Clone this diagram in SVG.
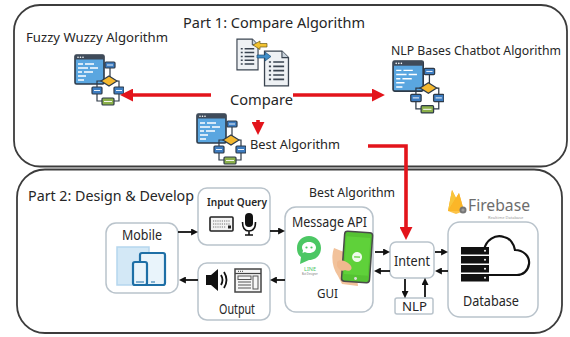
<svg xmlns="http://www.w3.org/2000/svg" width="570" height="337" viewBox="0 0 570 337">
<defs>
<style>
text{font-family:"Noto Sans","Liberation Sans",sans-serif;fill:#262626}
.panel{fill:#fff;stroke:#3c3c3c;stroke-width:1.8}
.node{fill:#fff;stroke:#b9c3cb;stroke-width:1.5}
.red{stroke:#e3141b;stroke-width:3.6;fill:none}
.blk{stroke:#111;stroke-width:1.8;fill:none}
.dk{stroke:#2e3a48;stroke-width:1.2}
</style>
<marker id="redHead" viewBox="0 0 10 10" refX="7" refY="5" markerUnits="userSpaceOnUse" markerWidth="13" markerHeight="13" orient="auto">
<path d="M0,0 L10,5 L0,10 z" fill="#e3141b"/>
</marker>
<marker id="blkHead" viewBox="0 0 10 10" refX="7" refY="5" markerUnits="userSpaceOnUse" markerWidth="7" markerHeight="7" orient="auto">
<path d="M0,0 L10,5 L0,10 z" fill="#111"/>
</marker>
<!-- algorithm icon: code window + flowchart -->
<symbol id="algo" viewBox="0 0 50 52">
<rect x="1" y="1" width="29" height="29" rx="1.5" fill="#5aa6e0" stroke="#2e3a48" stroke-width="1.6"/>
<rect x="1" y="1" width="29" height="4.5" fill="#3f4b5a"/>
<circle cx="4" cy="3.2" r="0.8" fill="#fff"/><circle cx="6.5" cy="3.2" r="0.8" fill="#fff"/><circle cx="9" cy="3.2" r="0.8" fill="#fff"/>
<g stroke="#fff" stroke-width="1.4">
<path d="M4,10 H9 M11,10 H20 M4,14 H14 M16,14 H24 M4,18 H8 M10,18 H19 M4,22 H12 M4,26 H10"/>
</g>
<g stroke="#2e3a48" stroke-width="1.2" fill="none">
<path d="M36,14 V23 M27,27 H23 V33 M43,27 H45 V33 M23,40 V47 H28 M45,40 V47 H40"/>
</g>
<rect x="31" y="8" width="10" height="6" rx="1" fill="#3d7cc0" class="dk"/>
<path d="M35,22 L43,27 L35,32 L27,27 z" fill="#f5b82e" class="dk"/>
<rect x="18" y="33" width="10" height="7" rx="1" fill="#3d7cc0" class="dk"/>
<rect x="40" y="33" width="10" height="7" rx="1" fill="#3d7cc0" class="dk"/>
<rect x="28" y="44" width="12" height="7" rx="1" fill="#8bb04a" class="dk"/>
<g stroke="#fff" stroke-width="0.9"><path d="M33,11 H39 M20,36.5 H26 M42,36.5 H48 M30,47.5 H38"/></g>
</symbol>
<!-- document with list lines -->
<symbol id="doc" viewBox="0 0 24 34">
<path d="M1,1 H17 L23,7 V33 H1 z" fill="#eef1f4" stroke="#3a4450" stroke-width="1.2"/>
<path d="M17,1 V7 H23" fill="#c9d3dc" stroke="#3a4450" stroke-width="1"/>
<g stroke="#3a4450" stroke-width="1.5">
<path d="M5,11 H7 M9,11 H19 M5,15 H7 M9,15 H19 M5,19 H7 M9,19 H19 M5,23 H7 M9,23 H19 M5,27 H7 M9,27 H19"/>
</g>
</symbol>
</defs>

<!-- panels -->
<rect class="panel" x="14" y="5" width="553" height="161.5" rx="26"/>
<rect class="panel" x="17" y="169.5" width="545" height="163.5" rx="28"/>

<text x="183" y="28" font-size="14" textLength="182" lengthAdjust="spacingAndGlyphs">Part 1: Compare Algorithm</text>
<text x="28" y="201" font-size="14.5" textLength="166" lengthAdjust="spacingAndGlyphs">Part 2: Design &amp; Develop</text>

<!-- Part 1 nodes -->
<g id="fuzzy">
<text x="26" y="42" font-size="13" textLength="142" lengthAdjust="spacingAndGlyphs">Fuzzy Wuzzy Algorithm</text>
<use href="#algo" x="74" y="54" width="50" height="52"/>
</g>
<g id="nlp-chatbot">
<text x="391" y="55" font-size="13" textLength="170" lengthAdjust="spacingAndGlyphs">NLP Bases Chatbot Algorithm</text>
<use href="#algo" x="392" y="60" width="52" height="54"/>
</g>
<g id="compare">
<use href="#doc" x="236" y="37" width="23" height="35"/>
<use href="#doc" x="263" y="50" width="27" height="37"/>
<path d="M253,45 L260,41 L260,43.5 L267,43.5 L267,47 L260,47 L260,49.5 z" fill="#f2c230" stroke="#6b5a1a" stroke-width="0.7"/>
<path d="M257,55 L265,55 L265,52 L271,56.5 L265,61 L265,58 L257,58 z" fill="#3f8ec9" stroke="#1f4f72" stroke-width="0.7"/>
<text x="230" y="105" font-size="15" textLength="63" lengthAdjust="spacingAndGlyphs">Compare</text>
</g>
<g id="best-algorithm">
<use href="#algo" x="196" y="113" width="50" height="52"/>
<text x="250" y="149" font-size="13" textLength="90" lengthAdjust="spacingAndGlyphs">Best Algorithm</text>
</g>

<!-- Part 2 nodes -->
<g id="mobile">
<rect class="node" x="106" y="223" width="72" height="70" rx="10"/>
<text x="122" y="240" font-size="14" textLength="40" lengthAdjust="spacingAndGlyphs">Mobile</text>
<rect x="117" y="247" width="32" height="38" fill="#d3e8f6" stroke="#b5d6ee" stroke-width="1.5"/>
<rect x="140" y="253" width="25" height="32" rx="2" fill="#e9f4fb" stroke="#1e6fa6" stroke-width="2.2"/>
<rect x="133" y="262" width="14" height="23" rx="2" fill="#e9f4fb" stroke="#1e6fa6" stroke-width="2.2"/>
<path d="M136,282 H144 M151,282 H155" stroke="#1e6fa6" stroke-width="1"/>
</g>

<g id="input-query">
<rect class="node" x="198" y="188" width="72" height="57" rx="9"/>
<text x="207" y="206" font-size="11" font-weight="600" textLength="60" lengthAdjust="spacingAndGlyphs">Input Query</text>
<rect x="210" y="217" width="23" height="14" rx="1" fill="#f4f4f4" stroke="#222" stroke-width="1.6"/>
<g stroke="#777" stroke-width="1.2" stroke-dasharray="1.2 1">
<path d="M213,221 H230 M213,224 H230 M213,227 H226"/>
</g>
<rect x="228" y="225.5" width="3" height="3" fill="#222"/>
<rect x="245" y="213" width="8" height="14" rx="4" fill="#111"/>
<path d="M242.5,222 Q242.5,231 249,231 Q255.5,231 255.5,222 M249,231 V235 M245,235 H253" fill="none" stroke="#111" stroke-width="1.6"/>
</g>

<g id="output">
<rect class="node" x="198" y="263" width="72" height="57" rx="9"/>
<path d="M206,275 H211 L218,269 V291 L211,285 H206 z" fill="#111"/>
<path d="M221,275 Q224,280 221,285 M224,272 Q229,280 224,288" fill="none" stroke="#111" stroke-width="1.8"/>
<rect x="235" y="269" width="26" height="23" fill="#f6f6f6" stroke="#444" stroke-width="1.5"/>
<path d="M235,273.5 H261" stroke="#444" stroke-width="1.2"/>
<path d="M238,271.3 H244" stroke="#666" stroke-width="1.2" stroke-dasharray="1 1"/>
<rect x="238" y="276" width="13" height="3.5" fill="none" stroke="#555" stroke-width="1"/>
<rect x="253" y="276" width="5" height="13" fill="none" stroke="#555" stroke-width="1"/>
<path d="M238,282 H251 M238,285 H251 M238,288 H251" stroke="#555" stroke-width="1"/>
<text x="219" y="314" font-size="14" textLength="36" lengthAdjust="spacingAndGlyphs">Output</text>
</g>

<g id="message-api">
<text x="309" y="197" font-size="13" textLength="86" lengthAdjust="spacingAndGlyphs">Best Algorithm</text>
<rect class="node" x="285" y="207" width="88" height="105" rx="11"/>
<text x="292" y="227" font-size="14" textLength="75" lengthAdjust="spacingAndGlyphs">Message API</text>
<!-- LINE messenger badge -->
<path d="M309,236 C316,236 321,241 321,248 C321,255 316,260 309,260 L300,264 L301,257 C298,255 297,252 297,248 C297,241 302,236 309,236 z" fill="#4cc764"/>
<path d="M309,242 C313.5,242 316,244.5 316,247.5 C316,250.5 313.5,253 309,253 C307.5,253 306,252.7 305,252 L302.5,253 L303,250.5 C302.3,249.6 302,248.6 302,247.5 C302,244.5 304.5,242 309,242 z" fill="#fff"/>
<circle cx="306.5" cy="247.5" r="1.1" fill="#4cc764"/><circle cx="311.5" cy="247.5" r="1.1" fill="#4cc764"/>
<text x="304" y="271" font-size="5.5" style="fill:#4cc764">LINE</text>
<text x="302" y="275" font-size="2.6" style="fill:#777">Bot Designer</text>
<!-- hand holding phone -->
<path d="M334,248 C331,256 332,268 338,276 L342,284 L358,286 L356,270 L346,262 L344,252 z" fill="#f2c29b"/>
<g transform="rotate(4 357 258)">
<rect x="343" y="232" width="28" height="50" rx="3" fill="#55c233" stroke="#4a4a4a" stroke-width="1.5"/>
<rect x="345" y="237" width="24" height="38" fill="#5fd13a"/>
<circle cx="357" cy="257" r="5" fill="#fff" opacity="0.9"/>
<path d="M354,257 H360" stroke="#5fd13a" stroke-width="1.2"/>
<circle cx="357" cy="278.5" r="1.5" fill="#ddd"/>
</g>
<path d="M337,262 C340,258 348,262 351,266 C353,270 349,272 345,270 C342,272 339,270 337,266 z" fill="#f0b98f"/>
<text x="317" y="298" font-size="13" textLength="21" lengthAdjust="spacingAndGlyphs">GUI</text>
</g>

<g id="intent">
<rect class="node" x="390" y="242" width="44" height="36" rx="6"/>
<text x="394" y="266" font-size="14" textLength="36" lengthAdjust="spacingAndGlyphs">Intent</text>
</g>

<g id="nlp">
<rect class="node" x="395" y="298" width="38" height="16" rx="2"/>
<text x="402" y="311" font-size="13" textLength="25" lengthAdjust="spacingAndGlyphs">NLP</text>
</g>

<g id="database">
<rect class="node" x="448" y="222" width="90" height="95" rx="12"/>
<!-- Firebase logo -->
<path d="M448,211 L452,190 L456,198 L459,193 L464,211 z" fill="#f6a623"/>
<path d="M448,211 L452,190 L456,198 z" fill="#f8c53a"/>
<path d="M448,211 L459,193 L464,211 L456,214 z" fill="#fbb829" opacity="0.85"/>
<circle cx="463" cy="210" r="3.5" fill="#757575"/>
<circle cx="463" cy="210" r="1.6" fill="#9e9e9e"/>
<text x="468" y="211" font-size="17" textLength="62" lengthAdjust="spacingAndGlyphs" style="fill:#6d6d6d">Firebase</text>
<text x="488" y="219" font-size="4" style="fill:#9a9a9a">Realtime Database</text>
<!-- cloud -->
<path d="M484,250 C486,240 495,234 504,237 C510,238 514,244 515,250 C523,250 530,256 529,264 C528,271 523,275 517,275 H489" fill="none" stroke="#111" stroke-width="2.2"/>
<!-- server rack -->
<g fill="#111">
<rect x="461" y="247" width="28" height="7.5"/>
<rect x="461" y="256" width="28" height="7.5"/>
<rect x="461" y="265" width="28" height="7.5"/>
<rect x="461" y="274" width="28" height="7.5"/>
</g>
<g fill="#fff">
<circle cx="485" cy="250.7" r="1"/><circle cx="485" cy="259.7" r="1"/><circle cx="485" cy="268.7" r="1"/><circle cx="485" cy="277.7" r="1"/>
</g>
<text x="463" y="306" font-size="15" textLength="56" lengthAdjust="spacingAndGlyphs">Database</text>
</g>

<!-- connectors -->
<g id="connectors">
<path class="red" d="M211,95 H124" marker-end="url(#redHead)"/>
<path class="red" d="M293,95 H381" marker-end="url(#redHead)"/>
<path class="red" d="M258,120 V131" marker-end="url(#redHead)"/>
<path class="red" d="M368,146 H406 V236" marker-end="url(#redHead)"/>

<path class="blk" d="M178,232 H196" marker-end="url(#blkHead)"/>
<path class="blk" d="M270,231 H283" marker-end="url(#blkHead)"/>
<path class="blk" d="M285,280 H272" marker-end="url(#blkHead)"/>
<path class="blk" d="M198,280 H181" marker-end="url(#blkHead)"/>
<path class="blk" d="M375,252 H388" marker-end="url(#blkHead)"/>
<path class="blk" d="M390,271 H376" marker-end="url(#blkHead)"/>
<path class="blk" d="M435,252 H446" marker-end="url(#blkHead)"/>
<path class="blk" d="M448,271 H437" marker-end="url(#blkHead)"/>
<path class="blk" d="M405,279 V296" marker-end="url(#blkHead)"/>
<path class="blk" d="M425,297 V280" marker-end="url(#blkHead)"/>
</g>
</svg>
